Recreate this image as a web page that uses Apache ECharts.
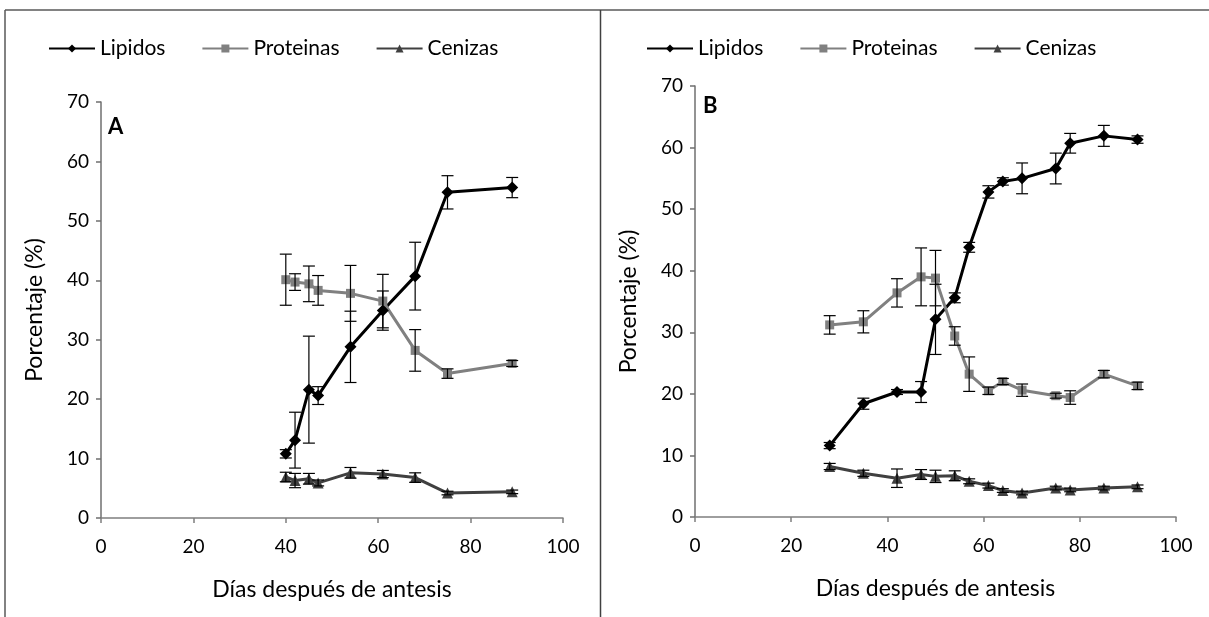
<!DOCTYPE html>
<html>
<head>
<meta charset="utf-8">
<script src="https://cdn.jsdelivr.net/npm/echarts@6/dist/echarts.min.js"></script>
<style>
html,body{margin:0;padding:0;background:#fff;}
#chart{width:1209px;height:617px;}
</style>
</head>
<body>
<div id="chart"></div>
<script>
// ---------------- DATA ----------------
const seriesNames = ['Lipidos', 'Proteinas', 'Cenizas'];
const xTicks = [0, 20, 40, 60, 80, 100];
const yTicks = [0, 10, 20, 30, 40, 50, 60, 70];

// Panel A
const daysA = [40, 42, 45, 47, 54, 61, 68, 75, 89];
const lipA = [10.8, 13.1, 21.6, 20.6, 28.8, 34.9, 40.7, 54.8, 55.6];
const lipAErr = [0.7, 4.7, 9.0, 1.5, 6.0, 3.3, 5.7, 2.8, 1.7];
const protA = [40.1, 39.7, 39.4, 38.3, 37.8, 36.5, 28.2, 24.3, 26.0];
const protAErr = [4.3, 1.4, 3.0, 2.5, 4.7, 4.5, 3.5, 0.8, 0.5];
const cenA = [6.9, 6.3, 6.6, 5.9, 7.6, 7.4, 6.8, 4.2, 4.4];
const cenAErr = [0.8, 1.2, 0.9, 0.5, 0.9, 0.6, 0.8, 0.3, 0.3];

// Panel B
const daysB = [28, 35, 42, 47, 50, 54, 57, 61, 64, 68, 75, 78, 85, 92];
const lipB = [11.6, 18.4, 20.3, 20.3, 32.1, 35.6, 43.8, 52.8, 54.5, 55.0, 56.6, 60.7, 61.9, 61.3];
const lipBErr = [0.5, 0.9, 0.4, 1.7, 5.7, 0.8, 0.8, 1.0, 0.6, 2.5, 2.5, 1.6, 1.7, 0.6];
const protB = [31.2, 31.7, 36.4, 39.0, 38.8, 29.4, 23.2, 20.5, 22.0, 20.6, 19.7, 19.4, 23.2, 21.3];
const protBErr = [1.5, 1.8, 2.3, 4.7, 4.5, 1.5, 2.8, 0.6, 0.5, 1.0, 0.4, 1.1, 0.6, 0.6];
const cenB = [8.2, 7.1, 6.3, 6.9, 6.6, 6.7, 5.8, 5.1, 4.3, 3.9, 4.7, 4.4, 4.7, 4.9];
const cenBErr = [0.5, 0.5, 1.5, 0.8, 1.0, 0.8, 0.4, 0.4, 0.3, 0.3, 0.3, 0.3, 0.3, 0.3];

const panelLabels = ['A', 'B'];
const xName = 'Días después de antesis';
const yName = 'Porcentaje (%)';

// ---------------- STYLE ----------------
const FONT = 'Lato, "Open Sans", sans-serif';
const styles = {
  Lipidos:   { color: '#000000', symbol: 'diamond', size: 12 },
  Proteinas: { color: '#808080', symbol: 'rect', size: 9 },
  Cenizas:   { color: '#404040', symbol: 'triangle', size: 11 }
};

function pairs(xs, ys) { return xs.map((x, i) => [x, ys[i]]); }
function errData(xs, ys, es) { return xs.map((x, i) => [x, ys[i] - es[i], ys[i] + es[i]]); }

function lineSeries(name, idx, xs, ys) {
  const s = styles[name];
  return {
    name: name, type: 'line', xAxisIndex: idx, yAxisIndex: idx,
    data: pairs(xs, ys), symbol: s.symbol, symbolSize: s.size,
    lineStyle: { color: s.color, width: 3 },
    itemStyle: { color: s.color },
    z: 3, animation: false
  };
}
function errSeries(name, idx, xs, ys, es) {
  return {
    type: 'custom', xAxisIndex: idx, yAxisIndex: idx,
    data: errData(xs, ys, es),
    encode: { x: 0, y: [1, 2] },
    z: 4, silent: true, animation: false,
    renderItem: function (params, api) {
      const x = api.value(0);
      const top = api.coord([x, api.value(2)]);
      const bot = api.coord([x, api.value(1)]);
      const w = 6;
      const st = { stroke: '#000', lineWidth: 1.2 };
      return {
        type: 'group',
        children: [
          { type: 'line', shape: { x1: top[0], y1: top[1], x2: bot[0], y2: bot[1] }, style: st },
          { type: 'line', shape: { x1: top[0] - w, y1: top[1], x2: top[0] + w, y2: top[1] }, style: st },
          { type: 'line', shape: { x1: bot[0] - w, y1: bot[1], x2: bot[0] + w, y2: bot[1] }, style: st }
        ]
      };
    }
  };
}

function xAxis(idx) {
  return {
    gridIndex: idx, type: 'value', min: xTicks[0], max: xTicks[xTicks.length - 1], interval: 20,
    name: xName, nameLocation: 'middle', nameGap: 60,
    nameTextStyle: { fontFamily: FONT, fontSize: 23, color: '#000' },
    axisLine: { lineStyle: { color: '#7f7f7f', width: 1.5 } },
    axisTick: { show: true, inside: false, length: 5, lineStyle: { color: '#7f7f7f', width: 1.5 } },
    axisLabel: { fontFamily: FONT, fontSize: 19, color: '#000', margin: 19 },
    splitLine: { show: false }
  };
}
function yAxis(idx) {
  return {
    gridIndex: idx, type: 'value', min: yTicks[0], max: yTicks[yTicks.length - 1], interval: 10,
    name: yName, nameLocation: 'middle', nameGap: 55,
    nameTextStyle: { fontFamily: FONT, fontSize: 23, color: '#000' },
    axisLine: { show: true, lineStyle: { color: '#6f6f6f', width: 1.5 } },
    axisTick: { show: true, inside: false, length: 5, lineStyle: { color: '#6f6f6f', width: 1.5 } },
    axisLabel: { fontFamily: FONT, fontSize: 19, color: '#000', margin: 12 },
    splitLine: { show: false }
  };
}
function legend(left) {
  return {
    data: seriesNames, left: left, top: 33, orient: 'horizontal',
    itemWidth: 46, itemHeight: 10, itemGap: 36,
    textStyle: { fontFamily: FONT, fontSize: 21, color: '#000', padding: [0, 0, 0, 0] },
    selectedMode: false
  };
}

const option = {
  backgroundColor: '#ffffff',
  animation: false,
  legend: [legend(43), legend(641)],
  grid: [
    { left: 101, top: 102, width: 462, height: 416 },
    { left: 695, top: 86, width: 481, height: 431 }
  ],
  xAxis: [xAxis(0), xAxis(1)],
  yAxis: [yAxis(0), yAxis(1)],
  graphic: [
    { type: 'line', shape: { x1: 5, y1: 10, x2: 1209, y2: 10 }, style: { stroke: '#595959', lineWidth: 1.5 } },
    { type: 'line', shape: { x1: 5, y1: 10, x2: 5, y2: 617 }, style: { stroke: '#595959', lineWidth: 1.5 } },
    { type: 'line', shape: { x1: 600.5, y1: 10, x2: 600.5, y2: 617 }, style: { stroke: '#404040', lineWidth: 1.5 } },
    { type: 'text', left: 108, top: 116, style: { text: panelLabels[0], font: 'bold 22px ' + FONT, fill: '#000' } },
    { type: 'text', left: 703, top: 95, style: { text: panelLabels[1], font: 'bold 22px ' + FONT, fill: '#000' } }
  ],
  series: [
    errSeries('Lipidos', 0, daysA, lipA, lipAErr),
    errSeries('Proteinas', 0, daysA, protA, protAErr),
    errSeries('Cenizas', 0, daysA, cenA, cenAErr),
    lineSeries('Lipidos', 0, daysA, lipA),
    lineSeries('Proteinas', 0, daysA, protA),
    lineSeries('Cenizas', 0, daysA, cenA),
    errSeries('Lipidos', 1, daysB, lipB, lipBErr),
    errSeries('Proteinas', 1, daysB, protB, protBErr),
    errSeries('Cenizas', 1, daysB, cenB, cenBErr),
    lineSeries('Lipidos', 1, daysB, lipB),
    lineSeries('Proteinas', 1, daysB, protB),
    lineSeries('Cenizas', 1, daysB, cenB)
  ]
};

const chart = echarts.init(document.getElementById('chart'), null, { renderer: 'canvas' });
chart.setOption(option);
</script>
</body>
</html>
